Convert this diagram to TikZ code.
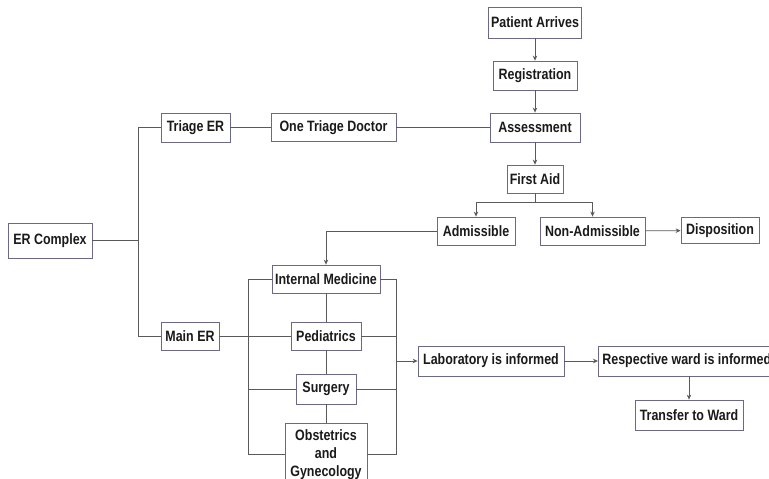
\documentclass[tikz,border=0pt]{standalone}
\usepackage{fontspec}
\setmainfont{Liberation Sans}[FakeStretch=0.83]
\usepackage{tikz}
\usetikzlibrary{positioning}
\usetikzlibrary{calc}
\usetikzlibrary{arrows.meta}
\definecolor{boxline}{HTML}{6A6A88}
\definecolor{wire}{HTML}{5A5A5A}
\definecolor{ink}{HTML}{1A1A1A}
\tikzstyle{line} = [draw, wire, line width=0.8pt, -{Stealth[length=5pt,width=4.5pt]}]
\tikzstyle{wireline} = [draw, wire, line width=0.8pt]

\begin{document}
\begin{tikzpicture}[x=1pt, y=-1pt,
	box/.style={draw=boxline, line width=0.8pt, fill=white, text=ink,
	font=\bfseries\fontsize{15}{18}\selectfont,
	minimum height=28pt, inner xsep=2pt, inner ysep=2pt}]
	\useasboundingbox (0,0) rectangle (769,479);
	%% Triage path
	\node [box, minimum width=93pt, minimum height=31pt] (PA) at (535,22.5) {Patient Arrives};
	\node [box, minimum width=84pt, minimum height=29pt] (Reg) at (535,75.5) {Registration};
	\node [box, minimum width=90pt, minimum height=29pt] (Ass) at (535,127.5) {Assessment};
	\node [box, minimum width=56pt] (FA) at (535,179) {First Aid};
	\node [box, minimum width=78pt] (Adm) at (476,231) {Admissible};
	\node [box, minimum width=105pt] (NonAdm) at (592.5,231) {Non-Admissible};
	\node [box, minimum width=78pt, minimum height=26pt] (Disp) at (720,230.5) {Disposition};
	%%
	\node [box, minimum width=84pt, minimum height=35pt] (ERC) at (50,240.5) {ER Complex};
	\node [box, minimum width=69pt, minimum height=29pt] (Triage) at (195.5,127.5) {Triage ER};
	\node [box, minimum width=125pt] (OTD) at (333.5,127.5) {One Triage Doctor};
	\node [box, minimum width=58pt] (MainER) at (190,336) {Main ER};
	%% Wards
	\node [box, minimum width=108pt] (IM) at (326,279) {Internal Medicine};
	\node [box, minimum width=70pt] (Ped) at (326,336) {Pediatrics};
	\node [box, minimum width=60pt, minimum height=30pt] (Surg) at (326,389) {Surgery};
	\node [box, minimum width=82pt, minimum height=62pt, align=center, anchor=north]
	(Obs) at (326,423) {Obstetrics\\and\\Gynecology};
	%%
	\node [box, minimum width=146pt, minimum height=30pt] (Lab) at (491,361) {Laboratory is informed};
	\node [box, minimum height=30pt, inner xsep=4pt, anchor=west] (Resp) at (598,361)
	{Respective ward is informed};
	\node [box, minimum width=108pt, minimum height=30pt] (Trans) at (689,415) {Transfer to Ward};
	%% Bus points
	\coordinate (busT) at (138,127.5);
	\coordinate (busB) at (138,336);
	\coordinate (lbT) at (248,279);
	\coordinate (rbT) at (396,279);
	\coordinate (rbL) at (396,361);
	%% Arrows
	\path [line] (PA.south) to (Reg.north);
	\path [line] (Reg.south) to (Ass.north);
	\path [line] (Ass.south) to (FA.north);
	\path [line] (FA.south) -- ++(0,9) -| (Adm.north);
	\path [line] (FA.south) -- ++(0,9) -| (NonAdm.north);
	\path [line] (NonAdm) to (Disp);
	\path [line] (Adm.west) -| (IM.north);
	\path [line] (rbL) to (Lab.west);
	\path [line] (Lab) to (Resp);
	\path [line] (Trans.north |- Resp.south) to (Trans.north);
	%% Plain lines
	\path [wireline] (ERC.east) -- (ERC.east -| busT);
	\path [wireline] (Triage.west) -- (busT) -- (busB) -- (MainER.west);
	\path [wireline] (Triage) -- (OTD) -- (Ass);
	\path [wireline] (MainER) -- (Ped);
	\path [wireline] (IM) -- (Ped) -- (Surg) -- (Obs);
	\path [wireline] (IM.west) -- (lbT) |- (Obs.west);
	\path [wireline] (Surg.west) -- (Surg.west -| lbT);
	\path [wireline] (IM.east) -- (rbT) |- (Obs.east);
	\path [wireline] (Ped.east) -- (Ped.east -| rbT);
	\path [wireline] (Surg.east) -- (Surg.east -| rbT);
\end{tikzpicture}
\end{document}
